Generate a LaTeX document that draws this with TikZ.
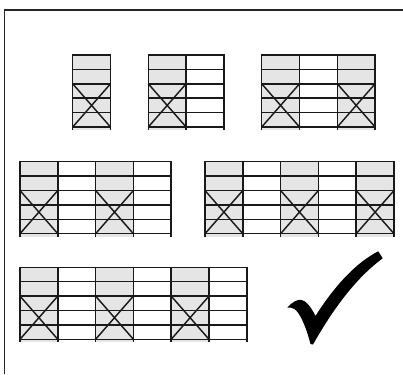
\documentclass[tikz,border=0pt]{standalone}
\tikzset{
  bayfill/.style={fill=black!10, draw=none},
  frameline/.style={line width=1.4pt, draw=black!85},
  tube/.style={line width=1.45pt, draw=black!90},
  tickmark/.style={fill=black, draw=none},
}
\begin{document}
\begin{tikzpicture}[x=1pt,y=-1pt]
\useasboundingbox (0,0) rectangle (403,374);
\draw[frameline] (4.7,374) -- (4.7,10) -- (403,10);
\foreach \x/\t/\n in {72.7/55/1, 148.3/55/2, 261.7/55/3, 20/161.7/4, 205/161.7/5, 20/267.3/6} {
  \pgfmathtruncatemacro\last{\n-1}
  \foreach \i in {0,...,\last} {
    \ifodd\i\else
      \fill[bayfill] (\x+\i*37.8, \t) rectangle (\x+\i*37.8+37.8, \t+75);
      \draw[tube] (\x+\i*37.8, \t+28.8) -- (\x+\i*37.8+37.8, \t+72)
                  (\x+\i*37.8+37.8, \t+28.8) -- (\x+\i*37.8, \t+72);
    \fi
  }
  \foreach \k in {0,...,5} \draw[tube, line cap=rect] (\x,\t+\k*14.4) -- (\x+\n*37.8,\t+\k*14.4);
  \foreach \i in {0,...,\n} \draw[tube] (\x+\i*37.8,\t) -- (\x+\i*37.8,\t+75);
}
% check mark
\fill[tickmark] (287.3,307.7) .. controls (292,302) and (297,299.5) .. (301,299.8)
  .. controls (306,300.5) and (311,307) .. (315.5,316)
  .. controls (335,285) and (357,262) .. (378.3,251.3)
  -- (382.7,258.3)
  .. controls (360,275) and (337,302) .. (313,344.5)
  -- (310.5,344)
  .. controls (305.5,325) and (299.5,312) .. (294,308.8)
  .. controls (291.5,307.4) and (289.5,307.4) .. cycle;
\end{tikzpicture}
\end{document}
